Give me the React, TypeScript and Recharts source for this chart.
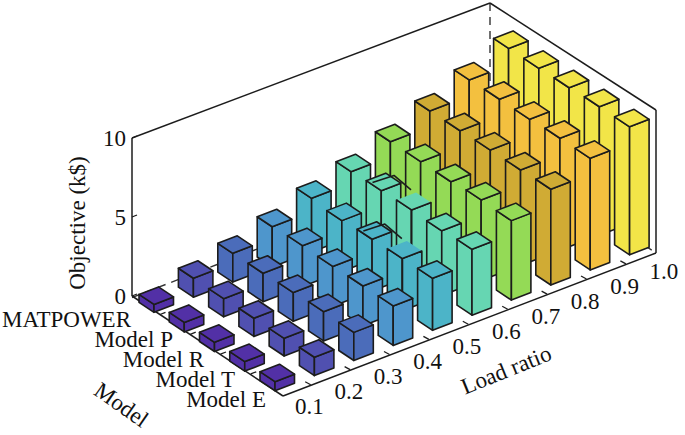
import React from 'react';
import { ScatterChart, Scatter, XAxis, YAxis, ReferenceLine } from 'recharts';

const loadRatios = ['0.1', '0.2', '0.3', '0.4', '0.5', '0.6', '0.7', '0.8', '0.9', '1.0'];
const models = ['MATPOWER', 'Model P', 'Model R', 'Model T', 'Model E'];
const yTicks = [0, 5, 10];

const matpower = [0.5, 1.2, 1.82, 2.55, 3.39, 4.12, 5.06, 6.05, 7.06, 8.1];
const modelP = [0.6, 1.15, 1.8, 2.59, 3.22, 4.16, 5.04, 6.04, 7.08, 8.08];
const modelR = [0.58, 1.15, 1.82, 2.52, 3.28, 4.18, 5.01, 6.06, 7.05, 8.09];
const modelT = [0.6, 1.12, 1.85, 2.52, 3.3, 4.1, 5.1, 6.04, 7.09, 8.13];
const modelE = [0.57, 1.16, 1.78, 2.5, 3.29, 4.17, 5.03, 6.06, 7.06, 8.1];
const objective = [matpower, modelP, modelR, modelT, modelE];

const loadColors = ['#5230a6', '#5050b0', '#4b6cba', '#4e96cc', '#4cb4c8', '#66d6b2', '#94da56', '#d0ab34', '#f3c03f', '#f2e548'];

// bars whose top lost its outline in the original export
const openTops = ['4-3', '5-2'];

const WIDTH = 685;
const HEIGHT = 435;
const FONT = '"Liberation Serif", "Times New Roman", serif';
const FONT_SIZE = 23;
const INK = '#1c1c1c';

// one k$ on the vertical axis in px, and where zero sits on the left wall
const PX_PER_K = 15.8;
const ZERO_Y = 296;
const PLOT_LEFT = 132;

const toV = (py: number) => (ZERO_Y - py) / PX_PER_K;

// oblique floor projection: front vertex of each bar
const frontX = (l: number, m: number) => 275 + (m - 4) * 30.25 + l * 39.4;
const frontY = (l: number, m: number) => 390.7 + (m - 4) * 19.6 - l * 15.1;

const bars = [...loadRatios.keys()].reverse().flatMap((l) =>
  models.map((_, m) => ({
    sx: frontX(l, m),
    sv: toV(frontY(l, m)) + objective[m][l],
    value: objective[m][l],
    fill: loadColors[l],
    open: openTops.includes(`${l}-${m}`),
  })),
);

const seg = (x1: number, y1: number, x2: number, y2: number) => [
  { x: x1, y: toV(y1) },
  { x: x2, y: toV(y2) },
];

const solidFrame = [
  seg(132, 296, 132, 138),
  seg(132, 138, 490, 3),
  seg(490, 3, 656, 110),
  seg(656, 110, 656, 253),
  seg(656, 253, 283, 396),
  seg(283, 396, 132, 296),
];
const dashedFrame = [seg(132, 297.5, 505, 153), seg(490, 3, 490, 153), seg(505, 153, 656, 253)];

const loadTickMarks = loadRatios.slice(1).map((_, k) => {
  const x = 310.7 + k * 39.4;
  const y = 384.7 - k * 15.1;
  return seg(x, y, x - 5.5, y - 3);
});
const modelTickMarks = models.slice(1).map((_, k) => {
  const x = 160 + k * 30.25;
  const y = 314.5 + k * 19.8;
  return seg(x, y, x + 5.5, y - 2.1);
});

const BarShape = (props: any) => {
  const { cx, cy, payload } = props;
  const h = payload.value * PX_PER_K;
  const p = (pts: number[][]) => pts.map((q) => q.join(',')).join(' ');
  const front = [cx, cy];
  const left = [cx - 15, cy - 10];
  const right = [cx + 19.5, cy - 7.5];
  const back = [cx + 4.5, cy - 17.5];
  const edge = { stroke: INK, strokeWidth: 1.6, strokeLinejoin: 'round' as const };
  return (
    <g>
      <polygon
        points={p([left, front, [cx, cy + h], [cx - 15, cy - 10 + h]])}
        fill={payload.fill}
        {...edge}
      />
      <polygon
        points={p([front, right, [cx + 19.5, cy - 7.5 + h], [cx, cy + h]])}
        fill={payload.fill}
        {...edge}
      />
      {payload.open ? (
        <>
          <polygon points={p([left, back, right, front])} fill={payload.fill} />
          <polyline
            points={p([
              [left[0] - 24, left[1] - 17.5],
              [back[0] - 22, back[1] - 17],
              [right[0] - 20, right[1] - 12.5],
            ])}
            fill="none"
            {...edge}
          />
          <line x1={cx} y1={cy} x2={cx} y2={cy + h} {...edge} />
          <polyline points={p([left, front, right])} fill="none" {...edge} />
        </>
      ) : (
        <polygon points={p([left, back, right, front])} fill={payload.fill} {...edge} />
      )}
    </g>
  );
};

const ZTick = (props: any) => {
  const { y, payload } = props;
  return (
    <g>
      <line x1={PLOT_LEFT} y1={y} x2={PLOT_LEFT + 5} y2={y - 2} stroke={INK} strokeWidth={1.3} />
      <text x={PLOT_LEFT - 6} y={y + 8} textAnchor="end" fontFamily={FONT} fontSize={FONT_SIZE} fill="#111">
        {payload.value}
      </text>
    </g>
  );
};

const modelLabelX = (m: number) => (m === 0 ? 131 : 173 + (m - 1) * 31);

export default function App() {
  return (
    <div style={{ position: 'absolute', left: 0, top: 0, width: WIDTH, height: HEIGHT }}>
      <ScatterChart width={WIDTH} height={HEIGHT} margin={{ top: 0, right: 0, bottom: 0, left: 0 }}>
        <XAxis type="number" dataKey="sx" domain={[PLOT_LEFT, WIDTH]} hide />
        <YAxis
          type="number"
          dataKey="sv"
          width={PLOT_LEFT}
          domain={[toV(HEIGHT), toV(0)]}
          ticks={yTicks}
          interval={0}
          axisLine={false}
          tickLine={false}
          tick={<ZTick />}
        />
        {dashedFrame.map((s, i) => (
          <ReferenceLine key={`d${i}`} segment={s} stroke="#333" strokeWidth={1.4} strokeDasharray="8 6" ifOverflow="visible" />
        ))}
        {solidFrame.map((s, i) => (
          <ReferenceLine key={`s${i}`} segment={s} stroke={INK} strokeWidth={1.5} ifOverflow="visible" />
        ))}
        {[...loadTickMarks, ...modelTickMarks].map((s, i) => (
          <ReferenceLine key={`t${i}`} segment={s} stroke={INK} strokeWidth={1.3} ifOverflow="visible" />
        ))}
        <Scatter data={bars} shape={<BarShape />} isAnimationActive={false} />
        {models.map((name, m) => (
          <text key={name} x={modelLabelX(m)} y={327 + m * 20} textAnchor="end" fontFamily={FONT} fontSize={FONT_SIZE} fill="#111">
            {name}
          </text>
        ))}
        {loadRatios.map((name, l) => (
          <text key={name} x={295 + l * 39.4} y={414 - l * 15} fontFamily={FONT} fontSize={FONT_SIZE} fill="#111">
            {name}
          </text>
        ))}
        <text x={85} y={223} textAnchor="middle" transform="rotate(-90 85 223)" fontFamily={FONT} fontSize={FONT_SIZE} fill="#111">
          Objective (k$)
        </text>
        <text x={509} y={377} textAnchor="middle" transform="rotate(-22 509 377)" fontFamily={FONT} fontSize={FONT_SIZE} fill="#111">
          Load ratio
        </text>
        <text x={117} y={411} textAnchor="middle" transform="rotate(35 117 411)" fontFamily={FONT} fontSize={FONT_SIZE} fill="#111">
          Model
        </text>
      </ScatterChart>
    </div>
  );
}
